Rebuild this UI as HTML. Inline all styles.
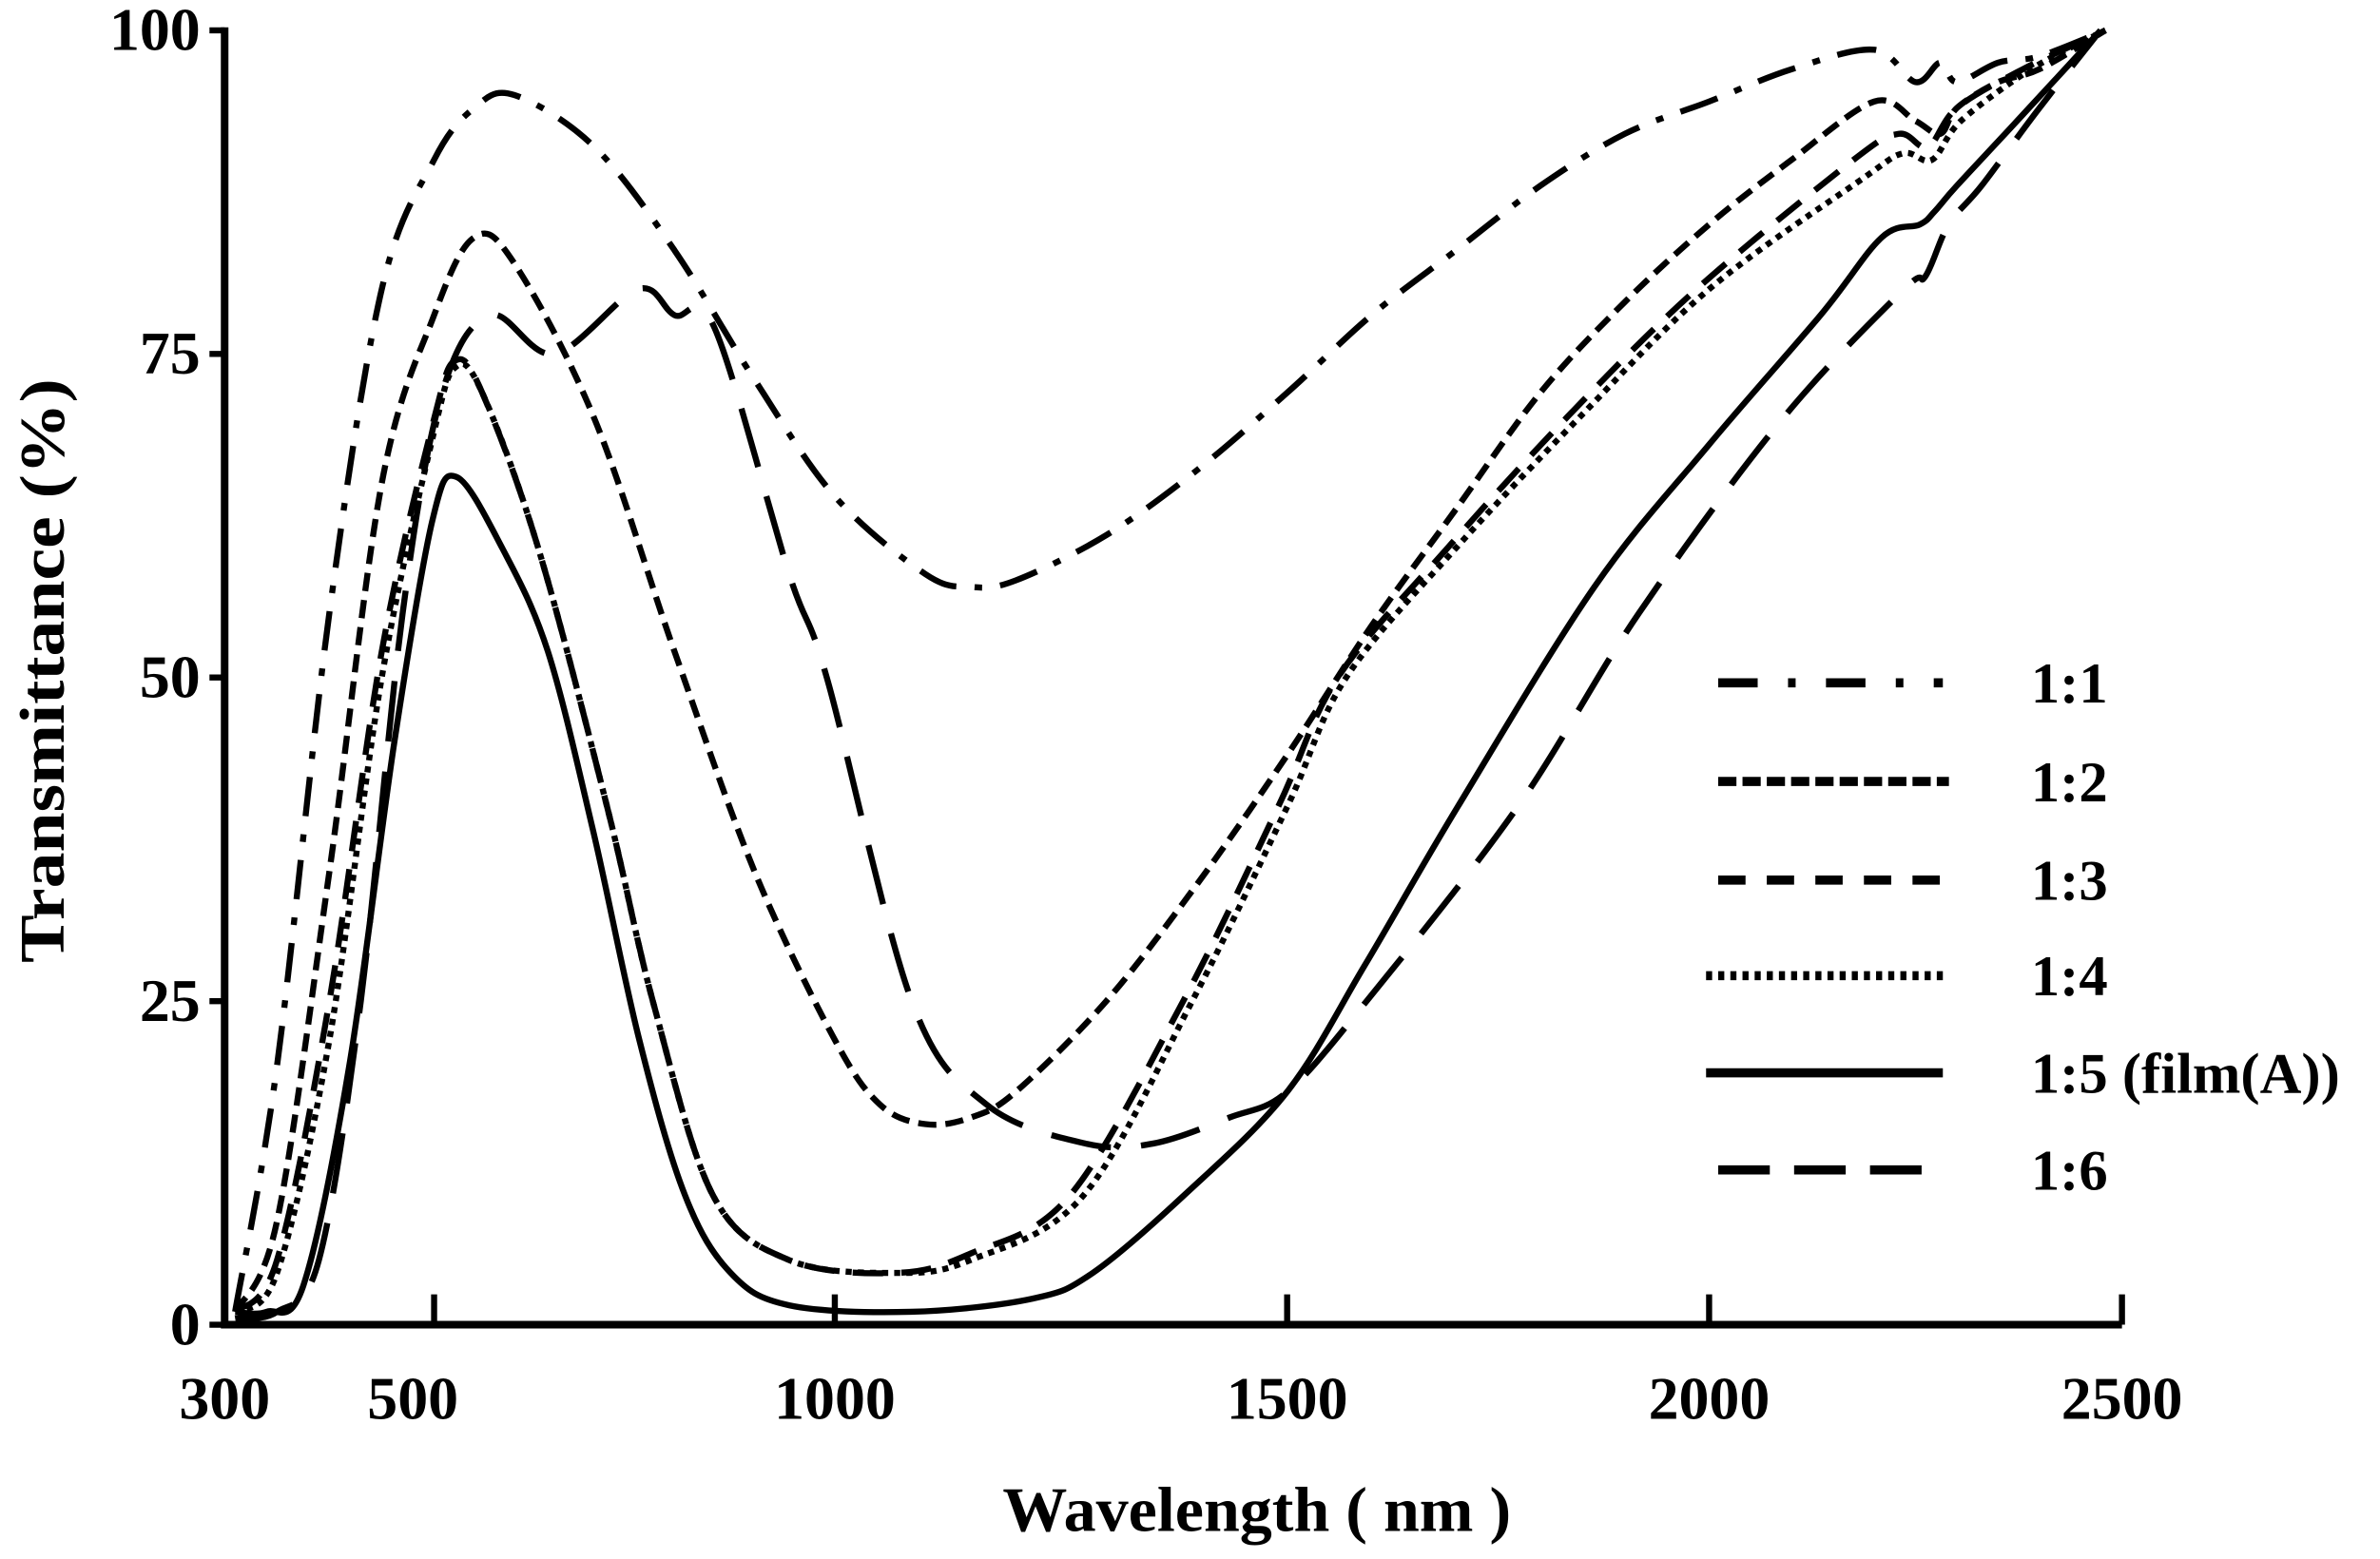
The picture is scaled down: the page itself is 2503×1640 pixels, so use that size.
<!DOCTYPE html>
<html><head><meta charset="utf-8"><style>
html,body{margin:0;padding:0;background:#fff;}
svg{display:block;}
text{font-family:"Liberation Serif",serif;font-weight:bold;fill:#000;}
</style></head><body>
<svg id="chart" width="2503" height="1640" viewBox="0 0 1568 1027.4" preserveAspectRatio="none" xmlns="http://www.w3.org/2000/svg">
<g id="axes"></g>
<g id="series"></g>
<g id="legend"></g>
<text x="828" y="1009" font-size="42" text-anchor="middle" textLength="335" lengthAdjust="spacingAndGlyphs">Wavelength ( nm )</text>
<text transform="translate(42,442) rotate(-90)" font-size="42" text-anchor="middle" textLength="385" lengthAdjust="spacingAndGlyphs">Transmittance  (%)</text>
</svg>
<script>
const xTicks = [300, 500, 1000, 1500, 2000, 2500];
const xTickPix = [148, 286, 550, 848, 1126, 1398];
const yTicks = [0, 25, 50, 75, 100];
const seriesNames = ["1:1", "1:2", "1:3", "1:4", "1:5 (film(A))", "1:6"];
const wl11 = [310,350,400,450,500,550,600,700,800,900,1000,1100,1150,1200,1300,1400,1500,1600,1700,1800,1900,2000,2100,2200,2250,2280,2300,2350,2400,2480];
const t11  = [1,20,55,80,90,94,95,91,83,73,64,58,57,57.5,61,66,72,78,83,88,92,94.5,97,98.5,96,97.5,96,97.5,98,100];
const wl12 = [310,350,400,450,500,550,600,700,800,900,1000,1050,1100,1150,1200,1300,1400,1500,1600,1700,1800,1900,2000,2100,2200,2250,2280,2300,2350,2400,2480];
const t12  = [1,8,35,65,78,84,82,70,52,35,22,17,15.5,16,18,25,34,44,54,63,72,79,85,90,94.5,93,92,94,96,97,100];
const wl13 = [310,350,400,450,500,527,560,630,716,773,848,943,1067,1150,1260,1385,1490,1560,1690,1830,1985,2175,2230,2265,2300,2380,2480];
const t13  = [1,5,25,52,70,74.5,72,60,40,25,10,5,4,5.5,10,25,40,50,60,70,80,90,92,91,94,97,100];
const wl14 = [310,350,400,450,500,527,560,630,716,773,848,943,1067,1150,1275,1395,1500,1570,1700,1845,2000,2185,2235,2270,2305,2390,2480];
const t14  = [1,4,22,50,69,74,72,60,40,25,10,5,4,5,10,25,40,50,60,70,80,88.5,90.5,90,93,97,100];
const wl15 = [310,340,375,419,462,498,528,585,642,699,756,813,870,943,1084,1218,1285,1386,1500,1594,1702,1864,2000,2135,2209,2255,2273,2300,2373,2474];
const t15  = [1,1,3,20,45,62,65.5,60,52,38,22,10,4,1.5,1,2,4,10,18,28,40,57,68,78,84,85,86,88,93,100];
const wl16 = [310,350,390,430,470,510,570,650,754,800,850,943,990,1085,1168,1277,1352,1436,1500,1594,1773,1917,2089,2236,2262,2290,2330,2400,2474];
const t16  = [0.5,1,5,25,55,72,78,75,80,78,77,58,50,25,17,14,14,16,18,25,40,55,70,80,81,85,88,94,100];

function xScale(w){
  for(let i=0;i<xTicks.length-1;i++){
    if(w<=xTicks[i+1]||i===xTicks.length-2){
      const f=(w-xTicks[i])/(xTicks[i+1]-xTicks[i]);
      return xTickPix[i]+f*(xTickPix[i+1]-xTickPix[i]);
    }
  }
}
function yScale(t){ return 873 - t*(873-20)/100; }

const NS="http://www.w3.org/2000/svg";
const axes=document.getElementById('axes');
function mk(tag,attrs,parent){const e=document.createElementNS(NS,tag);for(const k in attrs)e.setAttribute(k,attrs[k]);parent.appendChild(e);return e;}

let e=mk('path',{d:`M148,18 L148,873 L1398,873`,fill:'none',stroke:'#000','stroke-width':5},axes);


xTicks.forEach((v,i)=>{
  const x=xScale(v);
  if(i>0){
    const t=mk('line',{x1:x,y1:873,x2:x,y2:853,stroke:'#000','stroke-width':4},axes);
    
    
  }
  const lb=mk('text',{x:(i===1?x-14:x),y:935,'font-size':40,'text-anchor':'middle'},axes);
  lb.textContent=v;
  
  
});
yTicks.forEach(v=>{
  const y=yScale(v);
  const t=mk('line',{x1:138,y1:y,x2:148,y2:y,stroke:'#000','stroke-width':4},axes);
  
  
  const lb=mk('text',{x:132,y:y+13,'font-size':40,'text-anchor':'end'},axes);
  lb.textContent=v;
  
  
});

function smoothPath(pts){
  let d=`M${pts[0][0]},${pts[0][1]}`;
  for(let i=0;i<pts.length-1;i++){
    const p0=pts[Math.max(0,i-1)],p1=pts[i],p2=pts[i+1],p3=pts[Math.min(pts.length-1,i+2)];
    const c1=[p1[0]+(p2[0]-p0[0])/6,p1[1]+(p2[1]-p0[1])/6];
    const c2=[p2[0]-(p3[0]-p1[0])/6,p2[1]-(p3[1]-p1[1])/6];
    d+=` C${c1[0].toFixed(1)},${c1[1].toFixed(1)} ${c2[0].toFixed(1)},${c2[1].toFixed(1)} ${p2[0].toFixed(1)},${p2[1].toFixed(1)}`;
  }
  return d;
}
const dashes=["26 12 5 12","12 6","20 12","4 4","","40 20"];
const allW=[wl11,wl12,wl13,wl14,wl15,wl16];
const allT=[t11,t12,t13,t14,t15,t16];
const sg=document.getElementById('series');
allW.forEach((ws,s)=>{
  const pts=ws.map((w,i)=>[xScale(w),yScale(allT[s][i])]);
  const p=mk('path',{d:smoothPath(pts),fill:'none',stroke:'#000','stroke-width':4,'stroke-dasharray':dashes[s]},sg);
  
  
});
const lg=document.getElementById('legend');
const rowY=[450,515,580,643,707,771];
seriesNames.forEach((n,i)=>{
  const l=mk('line',{x1:(i===3||i===4)?1124:1132,y1:rowY[i],x2:(i===1)?1284:1280,y2:rowY[i],stroke:'#000','stroke-width':6,'stroke-dasharray':["26 20 5 20","12 4","18 14","4 4","","34 16"][i]},lg);
  
  
  const t=mk('text',{x:1338,y:rowY[i]+13,'font-size':38},lg);
  t.textContent=n;
  
  
});
</script>
</body></html>
